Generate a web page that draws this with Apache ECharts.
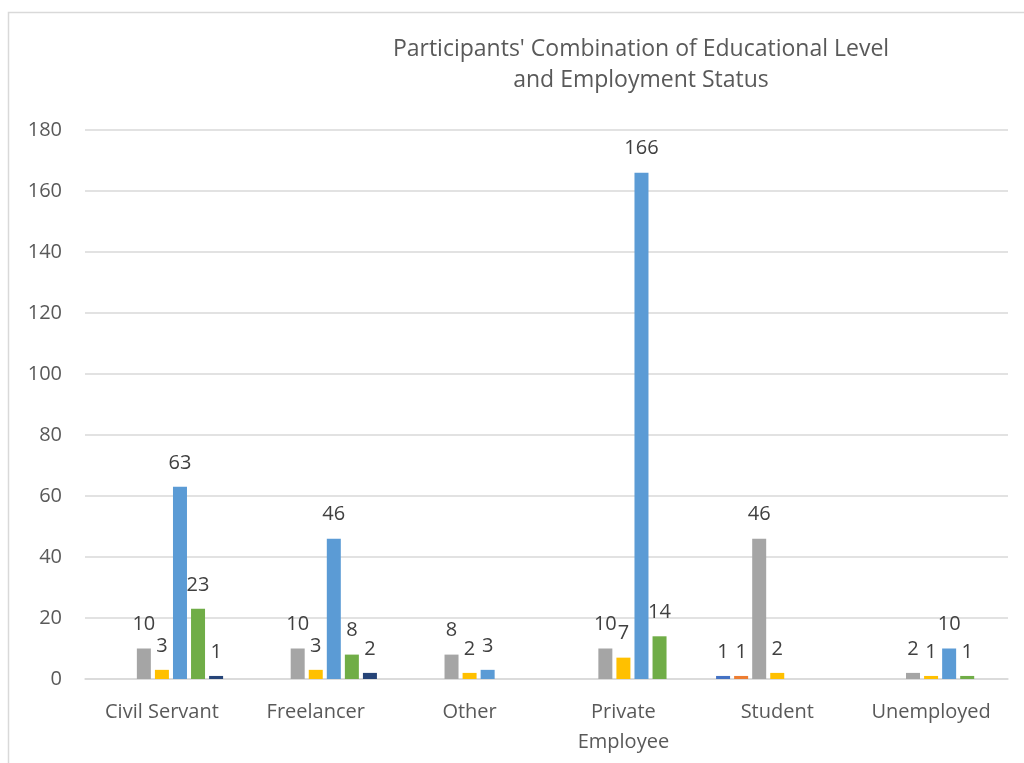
<!DOCTYPE html>
<html>
<head>
<meta charset="utf-8">
<script src="https://cdn.jsdelivr.net/npm/echarts@6/dist/echarts.min.js"></script>
<style>
html,body{margin:0;padding:0;background:#fff;}
#chart{width:1024px;height:763px;}
</style>
</head>
<body>
<div id="chart"></div>
<script>
const categories = ['Civil Servant', 'Freelancer', 'Other', 'Private\nEmployee', 'Student', 'Unemployed'];
const seriesNames = ['Primary School', 'Middle School', 'High School', 'Associate Degree', "Bachelor's Degree", "Master's Degree", 'Doctorate'];
const primary   = [null, null, null, null, 1, null];
const middle    = [null, null, null, null, 1, null];
const high      = [10, 10, 8, 10, 46, 2];
const associate = [3, 3, 2, 7, 2, 1];
const bachelor  = [63, 46, 3, 166, null, 10];
const master    = [23, 8, null, 14, null, 1];
const doctorate = [1, 2, null, null, null, null];
const yTicks = [0, 20, 40, 60, 80, 100, 120, 140, 160, 180];

const seriesData = [primary, middle, high, associate, bachelor, master, doctorate];
const colors = ['#4472C4', '#ED7D31', '#A5A5A5', '#FFC000', '#5B9BD5', '#70AD47', '#264478'];
const FONT = 'Open Sans';

const chart = echarts.init(document.getElementById('chart'));
chart.setOption({
  animation: false,
  backgroundColor: '#fff',
  textStyle: { fontFamily: FONT },
  title: {
    text: "Participants' Combination of Educational Level\nand Employment Status",
    left: 636, top: 29, textAlign: 'center',
    textStyle: { fontFamily: FONT, fontSize: 23, fontWeight: 'normal', color: '#595959', lineHeight: 31 }
  },
  graphic: [{
    type: 'rect', shape: { x: 8.5, y: 12.5, width: 1100, height: 800 },
    style: { fill: 'none', stroke: '#D9D9D9', lineWidth: 1.5 }, silent: true, z: -1
  }],
  legend: { show: false },
  grid: { left: 85, right: 16, top: 130, bottom: 84, containLabel: false },
  xAxis: {
    type: 'category', data: categories,
    axisTick: { show: false },
    axisLine: { show: true, lineStyle: { color: '#D9D9D9', width: 1.5 } },
    axisLabel: { interval: 0, fontFamily: FONT, fontSize: 20, color: '#595959', margin: 18, lineHeight: 30 }
  },
  yAxis: {
    type: 'value', min: 0, max: 180, interval: 20,
    axisLine: { show: false }, axisTick: { show: false },
    splitLine: { lineStyle: { color: '#D9D9D9', width: 1.5 } },
    axisLabel: { fontFamily: FONT, fontSize: 20, color: '#595959', margin: 23,
      formatter: v => yTicks.includes(v) ? String(v) : '' }
  },
  series: seriesNames.map((n, i) => ({
    name: n, type: 'bar', data: seriesData[i],
    barWidth: 14, barGap: '29%',
    itemStyle: { color: colors[i] },
    label: { show: true, position: 'top', distance: 14, fontFamily: FONT, fontSize: 20, color: '#404040' }
  }))
});
</script>
</body>
</html>
